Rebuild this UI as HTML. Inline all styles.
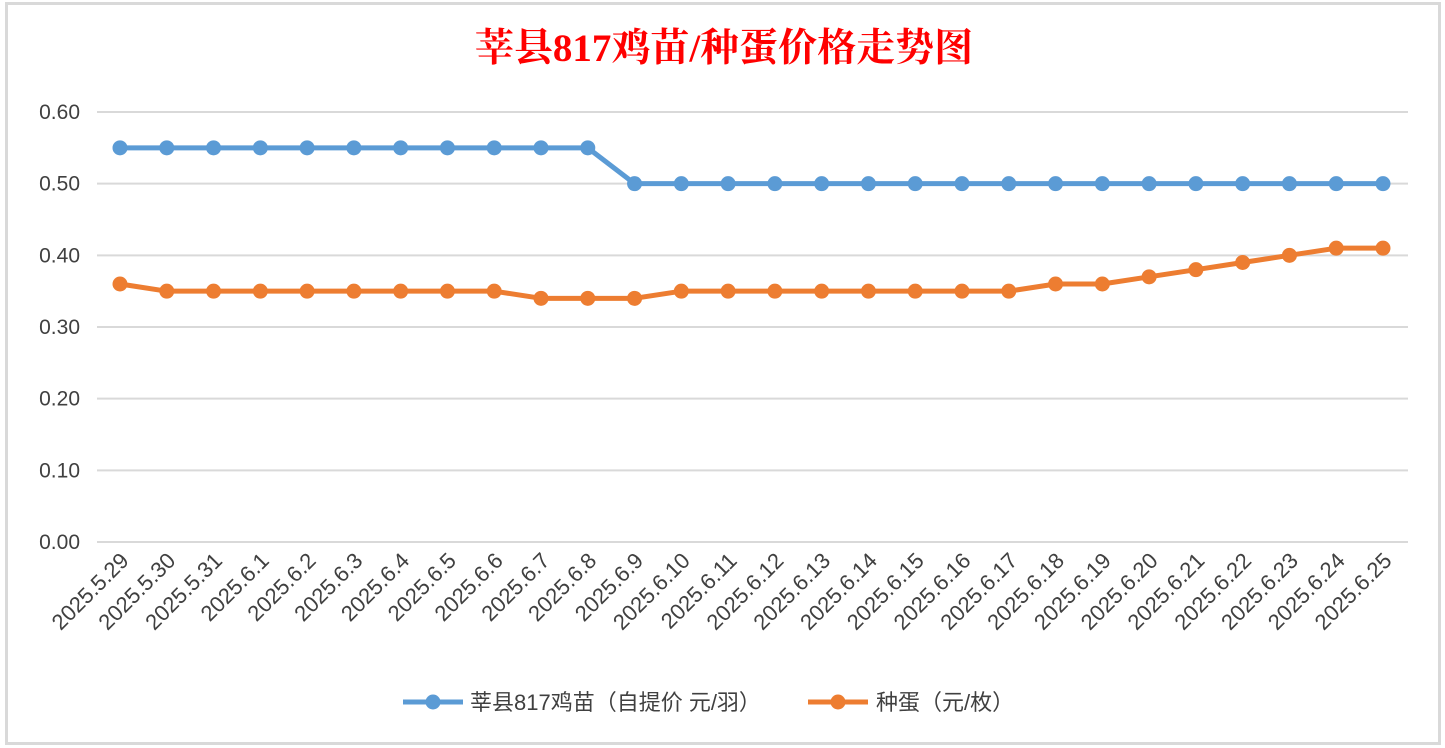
<!DOCTYPE html>
<html><head><meta charset="utf-8"><style>
body{margin:0;background:#fff;}
svg{display:block;font-family:"Liberation Sans","Noto Sans CJK SC",sans-serif;}
</style></head><body>
<svg width="1445" height="748">
<rect x="6.5" y="3.5" width="1433" height="740" fill="#fff" stroke="#d9d9d9" stroke-width="3"/>
<text x="724" y="61" text-anchor="middle" font-size="39" font-weight="bold" fill="#ff0000" font-family="'Liberation Serif','Noto Serif CJK SC',serif">莘县817鸡苗/种蛋价格走势图</text>
<g id="grid"></g><g id="series"></g><g id="xlabels"></g>
<g>
<line x1="403" y1="702" x2="463" y2="702" stroke="#5b9bd5" stroke-width="5"/>
<circle cx="433" cy="702" r="7.5" fill="#5b9bd5"/>
<text x="470" y="710" font-size="22" fill="#404040">莘县817鸡苗（自提价 元/羽）</text>
<line x1="808" y1="702" x2="868" y2="702" stroke="#ed7d31" stroke-width="5"/>
<circle cx="838" cy="702" r="7.5" fill="#ed7d31"/>
<text x="876" y="710" font-size="22" fill="#404040">种蛋（元/枚）</text>
</g>
</svg>
<script>
const categories=["2025.5.29","2025.5.30","2025.5.31","2025.6.1","2025.6.2","2025.6.3","2025.6.4","2025.6.5","2025.6.6","2025.6.7","2025.6.8","2025.6.9","2025.6.10","2025.6.11","2025.6.12","2025.6.13","2025.6.14","2025.6.15","2025.6.16","2025.6.17","2025.6.18","2025.6.19","2025.6.20","2025.6.21","2025.6.22","2025.6.23","2025.6.24","2025.6.25"];
const chickPrices=[0.55,0.55,0.55,0.55,0.55,0.55,0.55,0.55,0.55,0.55,0.55,0.50,0.50,0.50,0.50,0.50,0.50,0.50,0.50,0.50,0.50,0.50,0.50,0.50,0.50,0.50,0.50,0.50];
const eggPrices=[0.36,0.35,0.35,0.35,0.35,0.35,0.35,0.35,0.35,0.34,0.34,0.34,0.35,0.35,0.35,0.35,0.35,0.35,0.35,0.35,0.36,0.36,0.37,0.38,0.39,0.40,0.41,0.41];
const yTicks=[0,0.1,0.2,0.3,0.4,0.5,0.6];
const yTickLabels=["0.00","0.10","0.20","0.30","0.40","0.50","0.60"];
const NS="http://www.w3.org/2000/svg";
const x0=120,x1=1383,y0=542,y1=112,yMax=0.6;
function xs(i){return x0+(x1-x0)*i/(categories.length-1);}
function ys(v){return y0-(y0-y1)*v/yMax;}
function mk(t,a,p){const e=document.createElementNS(NS,t);for(const k in a)e.setAttribute(k,a[k]);p.appendChild(e);return e;}
const grid=document.getElementById('grid');
yTicks.forEach((v,i)=>{
 const l=mk('line',{x1:97,x2:1408,y1:ys(v),y2:ys(v),stroke:'#d9d9d9','stroke-width':2},grid);
 
 
 const t=mk('text',{x:80,y:ys(v)+7,'text-anchor':'end','font-size':21,fill:'#404040'},grid);
 t.textContent=yTickLabels[i];
 
 
});
const xl=document.getElementById('xlabels');
categories.forEach((c,i)=>{
 const x=xs(i)+10,y=562;
 const t=mk('text',{x:x,y:y,'text-anchor':'end','font-size':22,fill:'#404040',transform:`rotate(-45 ${x} ${y})`},xl);
 t.textContent=c;
 
 
});
const sg=document.getElementById('series');
[[chickPrices,'#5b9bd5','chick'],[eggPrices,'#ed7d31','egg']].forEach(([d,col,n])=>{
 const p=mk('polyline',{points:d.map((v,i)=>xs(i)+','+ys(v)).join(' '),fill:'none',stroke:col,'stroke-width':5,'stroke-linejoin':'round'},sg);
 
 
 d.forEach((v,i)=>{
  const c=mk('circle',{cx:xs(i),cy:ys(v),r:7.5,fill:col},sg);
  
  
 });
});
</script>
</body></html>
